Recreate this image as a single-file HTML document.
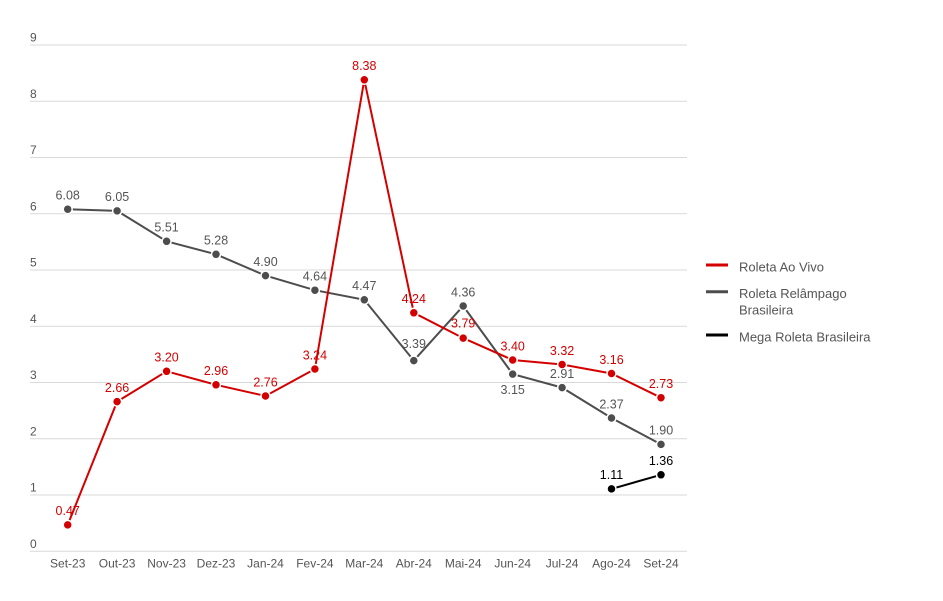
<!DOCTYPE html>
<html><head><meta charset="utf-8"><style>
html,body{margin:0;padding:0;background:#fff;}
svg{display:block;}
text{font-family:"Liberation Sans","DejaVu Sans",sans-serif;}
</style></head><body>
<svg width="943" height="601" viewBox="0 0 943 601" xmlns="http://www.w3.org/2000/svg">
<g stroke="#d9d9d9" stroke-width="1">
<line x1="30" y1="45" x2="687" y2="45"/>
<line x1="30" y1="101.3" x2="687" y2="101.3"/>
<line x1="30" y1="157.5" x2="687" y2="157.5"/>
<line x1="30" y1="213.8" x2="687" y2="213.8"/>
<line x1="30" y1="270" x2="687" y2="270"/>
<line x1="30" y1="326.3" x2="687" y2="326.3"/>
<line x1="30" y1="382.5" x2="687" y2="382.5"/>
<line x1="30" y1="438.8" x2="687" y2="438.8"/>
<line x1="30" y1="495" x2="687" y2="495"/>
<line x1="30" y1="551.3" x2="687" y2="551.3"/>
</g>
<g fill="#555" font-size="12">
<text x="30" y="41.5">9</text>
<text x="30" y="97.8">8</text>
<text x="30" y="154">7</text>
<text x="30" y="210.3">6</text>
<text x="30" y="266.5">5</text>
<text x="30" y="322.8">4</text>
<text x="30" y="379">3</text>
<text x="30" y="435.3">2</text>
<text x="30" y="491.5">1</text>
<text x="30" y="547.8">0</text>
</g>
<g fill="#555" font-size="12" text-anchor="middle">
<text x="67.7" y="567.6">Set-23</text>
<text x="117.1" y="567.6">Out-23</text>
<text x="166.6" y="567.6">Nov-23</text>
<text x="216" y="567.6">Dez-23</text>
<text x="265.5" y="567.6">Jan-24</text>
<text x="314.9" y="567.6">Fev-24</text>
<text x="364.3" y="567.6">Mar-24</text>
<text x="413.8" y="567.6">Abr-24</text>
<text x="463.2" y="567.6">Mai-24</text>
<text x="512.7" y="567.6">Jun-24</text>
<text x="562.1" y="567.6">Jul-24</text>
<text x="611.5" y="567.6">Ago-24</text>
<text x="661" y="567.6">Set-24</text>
</g>
<!-- Gray series -->
<polyline fill="none" stroke="#4d4d4d" stroke-width="2" points="67.7,209.2 117.1,210.9 166.6,241.3 216,254.3 265.5,275.6 314.9,290.2 364.3,299.8 413.8,360.6 463.2,306 512.7,374.1 562.1,387.6 611.5,418 661,444.4"/>
<g fill="#4d4d4d" stroke="#fff" stroke-width="1.5">
<circle cx="67.7" cy="209.2" r="4.5"/><circle cx="117.1" cy="210.9" r="4.5"/><circle cx="166.6" cy="241.3" r="4.5"/><circle cx="216" cy="254.3" r="4.5"/><circle cx="265.5" cy="275.6" r="4.5"/><circle cx="314.9" cy="290.2" r="4.5"/><circle cx="364.3" cy="299.8" r="4.5"/><circle cx="413.8" cy="360.6" r="4.5"/><circle cx="463.2" cy="306" r="4.5"/><circle cx="512.7" cy="374.1" r="4.5"/><circle cx="562.1" cy="387.6" r="4.5"/><circle cx="611.5" cy="418" r="4.5"/><circle cx="661" cy="444.4" r="4.5"/>
</g>
<!-- Red series -->
<polyline fill="none" stroke="#d40000" stroke-width="2" points="67.7,524.9 117.1,401.6 166.6,371.3 216,384.8 265.5,396 314.9,369 364.3,79.8 413.8,312.8 463.2,338.1 512.7,360 562.1,364.5 611.5,373.5 661,397.7"/>
<g fill="#d40000" stroke="#fff" stroke-width="1.5">
<circle cx="67.7" cy="524.9" r="4.5"/><circle cx="117.1" cy="401.6" r="4.5"/><circle cx="166.6" cy="371.3" r="4.5"/><circle cx="216" cy="384.8" r="4.5"/><circle cx="265.5" cy="396" r="4.5"/><circle cx="314.9" cy="369" r="4.5"/><circle cx="364.3" cy="79.8" r="4.5"/><circle cx="413.8" cy="312.8" r="4.5"/><circle cx="463.2" cy="338.1" r="4.5"/><circle cx="512.7" cy="360" r="4.5"/><circle cx="562.1" cy="364.5" r="4.5"/><circle cx="611.5" cy="373.5" r="4.5"/><circle cx="661" cy="397.7" r="4.5"/>
</g>
<!-- Black series -->
<polyline fill="none" stroke="#000" stroke-width="2" points="611.5,488.9 661,474.8"/>
<g fill="#000" stroke="#fff" stroke-width="1.5">
<circle cx="611.5" cy="488.9" r="4.5"/><circle cx="661" cy="474.8" r="4.5"/>
</g>
<!-- Gray labels -->
<g fill="#555" font-size="12.5" text-anchor="middle">
<text x="67.7" y="199.5">6.08</text>
<text x="117.1" y="201.2">6.05</text>
<text x="166.6" y="231.6">5.51</text>
<text x="216" y="244.6">5.28</text>
<text x="265.5" y="265.9">4.90</text>
<text x="314.9" y="280.5">4.64</text>
<text x="364.3" y="290.1">4.47</text>
<text x="413.8" y="348">3.39</text>
<text x="463.2" y="296.3">4.36</text>
<text x="512.7" y="393.8">3.15</text>
<text x="562.1" y="377.9">2.91</text>
<text x="611.5" y="408.3">2.37</text>
<text x="661" y="434.7">1.90</text>
</g>
<!-- Red labels -->
<g fill="#d40000" font-size="12.5" text-anchor="middle">
<text x="67.7" y="515.2">0.47</text>
<text x="117.1" y="391.9">2.66</text>
<text x="166.6" y="361.6">3.20</text>
<text x="216" y="375.1">2.96</text>
<text x="265.5" y="386.3">2.76</text>
<text x="314.9" y="359.3">3.24</text>
<text x="364.3" y="70.1">8.38</text>
<text x="413.8" y="303.1">4.24</text>
<text x="463.2" y="327.6">3.79</text>
<text x="512.7" y="350.3">3.40</text>
<text x="562.1" y="354.8">3.32</text>
<text x="611.5" y="363.8">3.16</text>
<text x="661" y="388">2.73</text>
</g>
<g fill="#000" font-size="12.5" text-anchor="middle">
<text x="611.5" y="479.2">1.11</text>
<text x="661" y="465.1">1.36</text>
</g>
<!-- Legend -->
<g stroke-width="3">
<line x1="706" y1="265" x2="728" y2="265" stroke="#d40000"/>
<line x1="706" y1="291.7" x2="728" y2="291.7" stroke="#4d4d4d"/>
<line x1="706" y1="335" x2="728" y2="335" stroke="#000"/>
</g>
<g fill="#555" font-size="13">
<text x="739" y="271.3">Roleta Ao Vivo</text>
<text x="739" y="297.9">Roleta Relâmpago</text>
<text x="739" y="314.6">Brasileira</text>
<text x="739" y="341.3">Mega Roleta Brasileira</text>
</g>
</svg>
</body></html>
